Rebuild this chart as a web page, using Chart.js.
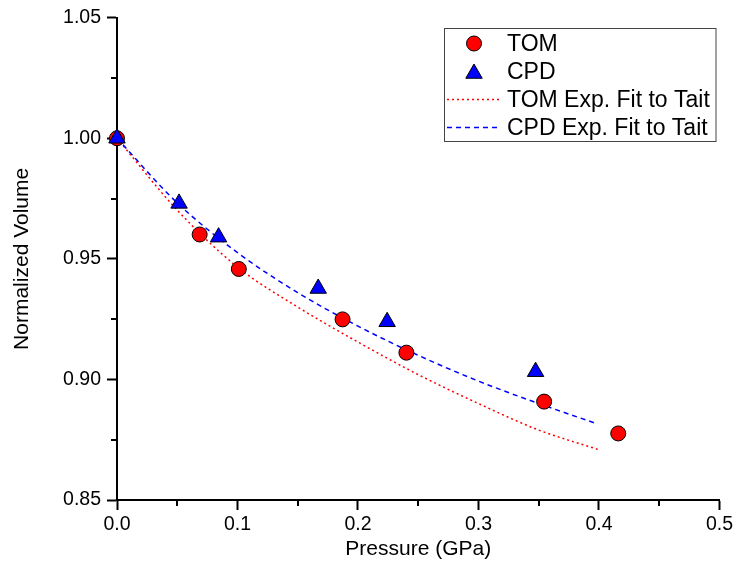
<!DOCTYPE html>
<html>
<head>
<meta charset="utf-8">
<script src="https://cdn.jsdelivr.net/npm/chart.js@4.4.1/dist/chart.umd.min.js"></script>
<style>
  html, body { margin: 0; padding: 0; background: #fff; }
  #wrap { width: 736px; height: 571px; position: relative; }
</style>
</head>
<body>
<div id="wrap"><canvas id="volChart"></canvas></div>
<script>
// 測定データ (Pressure GPa / Normalized Volume)
const tomPressure = [0.0, 0.0686, 0.1011, 0.1872, 0.2402, 0.3545, 0.4160];
const tomVolume   = [1.000, 0.9601, 0.9458, 0.9249, 0.9111, 0.8908, 0.8776];

const cpdPressure = [0.0, 0.0515, 0.0843, 0.1670, 0.2242, 0.3474];
const cpdVolume   = [1.000, 0.9730, 0.9590, 0.9377, 0.9239, 0.9032];

// Tait式フィット
const fitPressure  = [0.0, 0.05, 0.10, 0.15, 0.20, 0.25, 0.30, 0.35, 0.399];
const tomFitVolume = [1.000, 0.9702, 0.9466, 0.9300, 0.9155, 0.9020, 0.8900, 0.8790, 0.8710];
const cpdFitVolume = [1.000, 0.9732, 0.9526, 0.9360, 0.9221, 0.9100, 0.8993, 0.8900, 0.8815];

const legendLabels = ['TOM', 'CPD', 'TOM Exp. Fit to Tait', 'CPD Exp. Fit to Tait'];
const xTickValues = [0, 0.1, 0.2, 0.3, 0.4, 0.5];
const yTickValues = [0.85, 0.90, 0.95, 1.00, 1.05];

const FONT = "'Liberation Sans', Arial, sans-serif";

function toPoints(xs, ys) {
    return xs.map((x, i) => ({ x: x, y: ys[i] }));
}

// 副目盛り
const minorTicks = {
    id: 'minorTicks',
    afterDraw(chart) {
        const ctx = chart.ctx;
        const xs = chart.scales.x, ys = chart.scales.y;
        const area = chart.chartArea;
        ctx.save();
        ctx.strokeStyle = '#000';
        ctx.lineWidth = 2;
        ctx.beginPath();
        for (let v = 0.05; v < 0.5; v += 0.1) {
            const px = Math.round(xs.getPixelForValue(v));
            ctx.moveTo(px, area.bottom);
            ctx.lineTo(px, area.bottom + 6);
        }
        for (let v = 0.875; v < 1.05; v += 0.05) {
            const py = Math.round(ys.getPixelForValue(v));
            ctx.moveTo(area.left, py);
            ctx.lineTo(area.left - 6, py);
        }
        ctx.stroke();
        ctx.restore();
    }
};

// 凡例 (枠付き)
const boxLegend = {
    id: 'boxLegend',
    afterDraw(chart) {
        const ctx = chart.ctx;
        const left = 444.5, top = 28.5, right = 716, bottom = 141.5;
        const rows = [43.5, 71.5, 99.5, 127.5];
        ctx.save();
        ctx.strokeStyle = '#444';
        ctx.lineWidth = 1;
        ctx.strokeRect(left, top, right - left, bottom - top);

        // TOM marker
        ctx.beginPath();
        ctx.arc(474, rows[0], 7.5, 0, Math.PI * 2);
        ctx.fillStyle = '#ff0000';
        ctx.fill();
        ctx.strokeStyle = '#000';
        ctx.stroke();

        // CPD marker
        const r = 9.5, cy = rows[1] + 2;
        ctx.beginPath();
        for (let k = 0; k < 3; k++) {
            const a = k * 2 * Math.PI / 3;
            const px = 474 + Math.sin(a) * r, py = cy - Math.cos(a) * r;
            if (k === 0) ctx.moveTo(px, py); else ctx.lineTo(px, py);
        }
        ctx.closePath();
        ctx.fillStyle = '#0000ff';
        ctx.fill();
        ctx.stroke();

        // fit lines
        ctx.lineWidth = 1.5;
        ctx.strokeStyle = '#ff0000';
        ctx.setLineDash([2, 3]);
        ctx.beginPath();
        ctx.moveTo(447, rows[2]);
        ctx.lineTo(500, rows[2]);
        ctx.stroke();
        ctx.strokeStyle = '#0000ff';
        ctx.setLineDash([5, 4]);
        ctx.beginPath();
        ctx.moveTo(447, rows[3]);
        ctx.lineTo(500, rows[3]);
        ctx.stroke();
        ctx.setLineDash([]);

        ctx.fillStyle = '#000';
        ctx.font = '23px ' + FONT;
        ctx.textBaseline = 'middle';
        ctx.textAlign = 'left';
        legendLabels.forEach((t, i) => ctx.fillText(t, 507, rows[i] + 1));
        ctx.restore();
    }
};

const ctx = document.getElementById('volChart').getContext('2d');

const config = {
    type: 'scatter',
    data: {
        datasets: [
            {
                label: legendLabels[1],
                data: toPoints(cpdPressure, cpdVolume),
                pointStyle: 'triangle',
                pointRadius: 9.5,
                pointBackgroundColor: '#0000ff',
                pointBorderColor: '#000',
                pointBorderWidth: 1,
                order: 0,
                clip: false
            },
            {
                label: legendLabels[0],
                data: toPoints(tomPressure, tomVolume),
                pointStyle: 'circle',
                pointRadius: 7.5,
                pointBackgroundColor: '#ff0000',
                pointBorderColor: '#000',
                pointBorderWidth: 1,
                order: 1,
                clip: false
            },
            {
                label: legendLabels[3],
                data: toPoints(fitPressure, cpdFitVolume),
                showLine: true,
                pointRadius: 0,
                borderColor: '#0000ff',
                borderWidth: 1.5,
                borderDash: [5, 4],
                cubicInterpolationMode: 'monotone',
                order: 2
            },
            {
                label: legendLabels[2],
                data: toPoints(fitPressure, tomFitVolume),
                showLine: true,
                pointRadius: 0,
                borderColor: '#ff0000',
                borderWidth: 1.5,
                borderDash: [2, 3],
                cubicInterpolationMode: 'monotone',
                order: 3
            }
        ]
    },
    options: {
        responsive: true,
        maintainAspectRatio: false,
        animation: false,
        layout: { padding: { top: 16, right: 14, left: 0, bottom: 0 } },
        plugins: {
            legend: { display: false },
            tooltip: { enabled: false }
        },
        scales: {
            x: {
                type: 'linear',
                min: 0,
                max: 0.5,
                afterBuildTicks: (scale) => { scale.ticks = xTickValues.map(v => ({ value: v })); },
                afterFit: (scale) => { scale.height = 71; },
                border: { display: true, color: '#000', width: 2 },
                grid: { drawOnChartArea: false, drawTicks: true, tickLength: 10, tickWidth: 2, tickColor: '#000' },
                ticks: {
                    color: '#000',
                    padding: 3,
                    maxRotation: 0,
                    font: { family: FONT, size: 19.5 },
                    callback: (v) => v.toFixed(1)
                },
                title: {
                    display: true,
                    text: 'Pressure (GPa)',
                    color: '#000',
                    font: { family: FONT, size: 21 },
                    padding: { top: 0, bottom: 9 }
                }
            },
            y: {
                type: 'linear',
                min: 0.85,
                max: 1.05,
                afterBuildTicks: (scale) => { scale.ticks = yTickValues.map(v => ({ value: v })); },
                afterFit: (scale) => { scale.width = 117; },
                border: { display: true, color: '#000', width: 2 },
                grid: { drawOnChartArea: false, drawTicks: true, tickLength: 10, tickWidth: 2, tickColor: '#000' },
                ticks: {
                    color: '#000',
                    padding: 6,
                    font: { family: FONT, size: 19.5 },
                    callback: (v) => v.toFixed(2)
                },
                title: {
                    display: true,
                    text: 'Normalized Volume',
                    color: '#000',
                    font: { family: FONT, size: 21 },
                    padding: { top: 10, bottom: 0 }
                }
            }
        }
    },
    plugins: [minorTicks, boxLegend]
};

new Chart(ctx, config);
</script>
</body>
</html>
